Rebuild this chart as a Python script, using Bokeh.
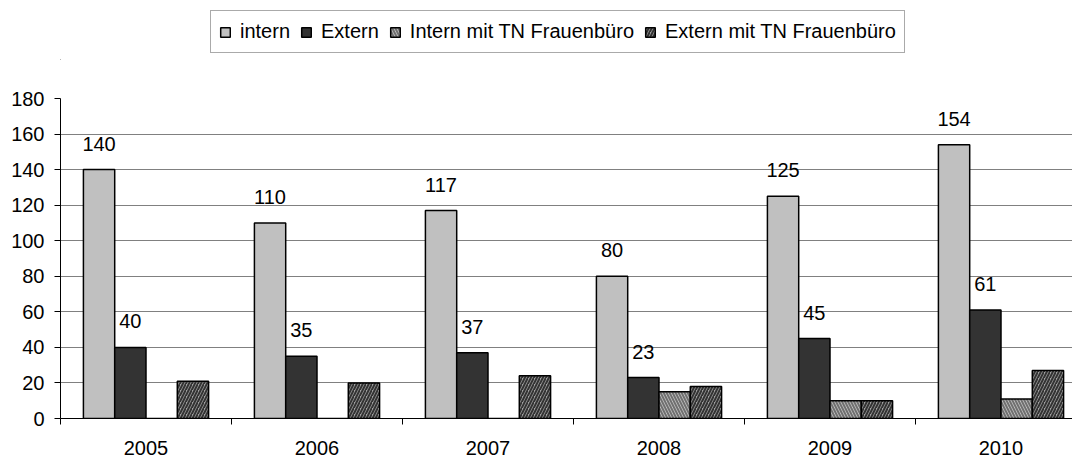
from bokeh.plotting import figure
from bokeh.models import (ColumnDataSource, FixedTicker, Legend, LegendItem,
                          LabelSet, Range1d)
from bokeh.layouts import column
from bokeh.transform import dodge
from bokeh.core.properties import value
from bokeh.embed import file_html
from bokeh.resources import INLINE

# ---- data ----
years = ["2005", "2006", "2007", "2008", "2009", "2010"]
intern = [140, 110, 117, 80, 125, 154]
extern = [40, 35, 37, 23, 45, 61]
intern_tn = [0, 0, 0, 15, 10, 11]
extern_tn = [21, 20, 24, 18, 10, 27]
series_names = ["intern", "Extern", "Intern mit TN Frauenbüro", "Extern mit TN Frauenbüro"]
y_ticks = [0, 20, 40, 60, 80, 100, 120, 140, 160, 180]

FONT = "Liberation Sans"
n = len(years)
centers = [i + 0.5 for i in range(n)]

src = ColumnDataSource(dict(
    x=centers, year=years,
    intern=intern, extern=extern, intern_tn=intern_tn, extern_tn=extern_tn,
    intern_lbl=[str(v) for v in intern], extern_lbl=[str(v) for v in extern],
))

CAT_PX = 171.0
FRAME_W = 1012
p = figure(width=1072, height=398, output_backend="svg", toolbar_location=None,
           x_range=Range1d(0, FRAME_W / CAT_PX), y_range=Range1d(0, 180),
           min_border_left=60, min_border_right=0, min_border_top=38,
           min_border_bottom=40)
p.outline_line_color = None
p.background_fill_color = "white"
p.border_fill_color = "white"

# x axis: labels at category centres, tick marks at category boundaries
xa = p.xaxis[0]
xa.ticker = FixedTicker(ticks=centers, minor_ticks=list(range(n + 1)))
xa.major_label_overrides = {c: y for c, y in zip(centers, years)}
xa.major_tick_out = 0
xa.major_tick_in = 0
xa.minor_tick_out = 6
xa.minor_tick_in = 0
xa.minor_tick_line_color = "black"
xa.axis_line_color = "black"
xa.major_label_standoff = 16
xa.major_label_text_font = FONT
xa.major_label_text_font_size = "20px"
xa.major_label_text_color = "black"

ya = p.yaxis[0]
ya.ticker = FixedTicker(ticks=y_ticks)
ya.major_tick_out = 6
ya.major_tick_in = 0
ya.minor_tick_out = 0
ya.minor_tick_in = 0
ya.axis_line_color = "black"
ya.major_tick_line_color = "black"
ya.major_label_standoff = 10
ya.major_label_text_font = FONT
ya.major_label_text_font_size = "20px"
ya.major_label_text_color = "black"

p.xgrid.visible = False
p.ygrid.ticker = FixedTicker(ticks=y_ticks)
p.ygrid.grid_line_color = "#808080"
p.ygrid.grid_line_width = 1

W = 0.183
styles = [
    dict(fill_color="#c0c0c0"),
    dict(fill_color="#333333"),
    dict(fill_color="#c8c8c8", hatch_pattern="left_diagonal_line",
         hatch_color="#707070", hatch_weight=2, hatch_scale=6),
    dict(fill_color="#a0a0a0", hatch_pattern="right_diagonal_line",
         hatch_color="#333333", hatch_weight=2, hatch_scale=6),
]
fields = ["intern", "extern", "intern_tn", "extern_tn"]
offsets = [-1.5, -0.5, 0.5, 1.5]
for f, off, st in zip(fields, offsets, styles):
    p.vbar(x=dodge("x", off * W, range=p.x_range), top=f, width=W,
           source=src, line_color="black", line_width=1.5, **st)

for f, lf, off in [("intern", "intern_lbl", -1.5), ("extern", "extern_lbl", -0.5)]:
    ls = LabelSet(x=dodge("x", off * W, range=p.x_range), y=f, text=lf,
                  source=src, y_offset=19, text_align="center",
                  text_baseline="alphabetic", text_font=value(FONT),
                  text_font_size=value("20px"), text_color="black")
    p.add_layout(ls)

# ---- legend strip above the chart ----
lf_fig = figure(width=1072, height=60, output_backend="svg", toolbar_location=None,
                x_range=Range1d(10, 11), y_range=Range1d(10, 11),
                x_axis_location=None, y_axis_location=None,
                min_border=0, min_border_left=0, min_border_right=0,
                min_border_top=0, min_border_bottom=0)
lf_fig.outline_line_color = None
lf_fig.grid.visible = False
# legend-only swatch renderers (their single row lies outside the visible range)
swatch_src = ColumnDataSource(dict(x=[0], top=[0]))
leg_renderers = [lf_fig.vbar(x="x", top="top", width=0.1, source=swatch_src,
                             line_color="black", line_width=1.5, **st)
                 for st in styles]

legend = Legend(items=[LegendItem(label=nm, renderers=[r])
                       for nm, r in zip(series_names, leg_renderers)],
                orientation="horizontal", location=(150, 7))
legend.label_text_font = FONT
legend.label_text_font_size = "20px"
legend.label_text_color = "black"
legend.glyph_width = 12
legend.glyph_height = 12
legend.label_standoff = 9
legend.spacing = 10
legend.padding = 8
legend.label_height = 25
legend.margin = 0
legend.border_line_color = "#555555"
legend.border_line_width = 1
legend.background_fill_color = "white"
legend.background_fill_alpha = 1
lf_fig.add_layout(legend, "center")

layout = column(lf_fig, p, spacing=0)
open("out.html", "w").write(file_html(layout, INLINE))
